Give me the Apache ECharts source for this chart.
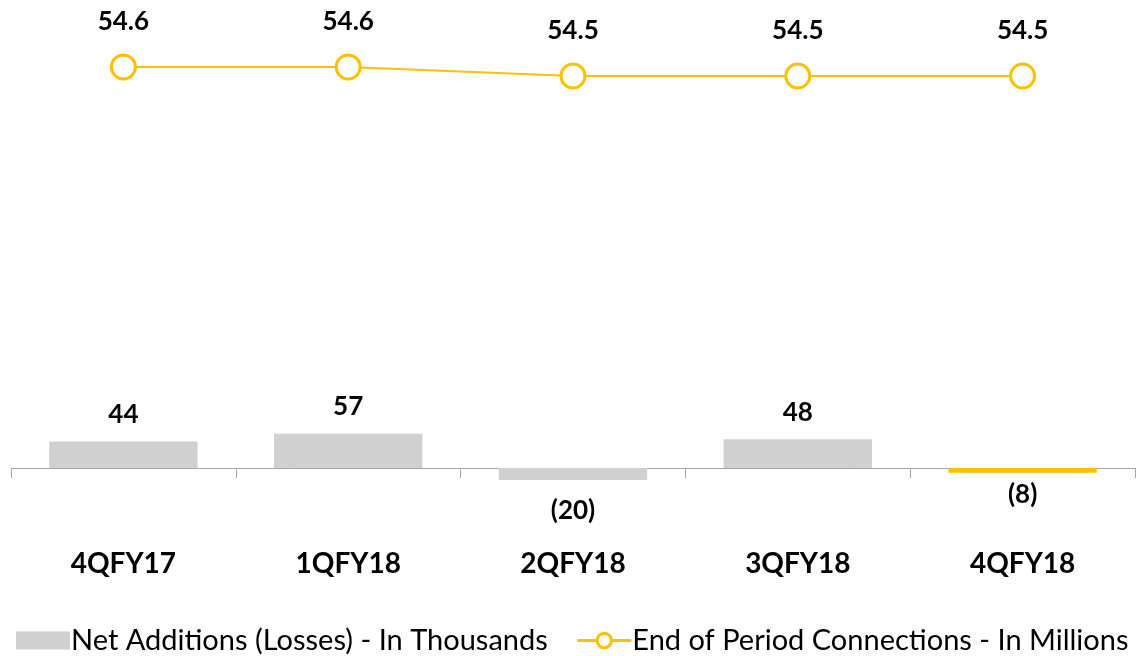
<!doctype html>
<html lang="en">
<head>
  <meta charset="UTF-8">
  <script src="https://cdn.jsdelivr.net/npm/echarts@6/dist/echarts.min.js"></script>
  <title>Connections</title>
  <style type="text/css">
    html, body {
      width: 100%;
      height: 100%;
      margin: 0;
      padding: 0;
      background-color: #ffffff;
    }

    #canvas {
      width: 1148px;
      height: 656px;
    }
  </style>
</head>

<body>
<div id="canvas"></div>

<script type="text/javascript">
  const categories = ['4QFY17', '1QFY18', '2QFY18', '3QFY18', '4QFY18']
  const netAdditions = [44, 57, -20, 48, -8]
  const connections = [54.6, 54.6, 54.5, 54.5, 54.5]

  const FONT = 'Lato'
  const GRAY = '#cfd0cf'
  const GOLD = '#ffc000'

  const chart = echarts.init(document.getElementById('canvas'))

  // bar axis: zero line at y=468, roughly 0.6 px per thousand
  // line axis: 90 px per million, 54.6 sits at y=67
  const gridTop = 8
  const gridBottom = 488
  const barScale = 0.6
  const lineScale = 90

  const barData = netAdditions.map((v, i) => {
    const item = { value: v }
    if (i === netAdditions.length - 1) {
      item.itemStyle = { color: GOLD }
    }
    if (v < 0) {
      item.label = { position: 'bottom', distance: i === netAdditions.length - 1 ? 9 : 18 }
    }
    return item
  })

  chart.setOption({
    animation: false,
    textStyle: { fontFamily: FONT },
    grid: {
      left: 11,
      right: 13,
      top: gridTop,
      height: gridBottom - gridTop,
      containLabel: false,
    },
    legend: {
      left: 11,
      top: 621,
      itemWidth: 54,
      itemHeight: 18,
      itemGap: 28,
      textStyle: { fontFamily: FONT, fontSize: 29, color: '#000000', padding: [0, 0, 0, -4] },
      data: [
        { name: 'Net Additions (Losses) - In Thousands', icon: 'rect' },
        {
          name: 'End of Period Connections - In Millions',
          lineStyle: { width: 3 },
          itemStyle: { borderWidth: 3 },
        },
      ],
    },
    xAxis: {
      type: 'category',
      data: categories,
      axisLine: { lineStyle: { color: '#a6a6a6', width: 1 } },
      axisTick: { show: true, length: 10, lineStyle: { color: '#a6a6a6' } },
      axisLabel: {
        margin: 62,
        fontFamily: FONT,
        fontSize: 28,
        fontWeight: 'bold',
        color: '#000000',
      },
    },
    yAxis: [
      {
        type: 'value',
        show: false,
        min: -(gridBottom - 468) / barScale,
        max: (468 - gridTop) / barScale,
        splitLine: { show: false },
      },
      {
        type: 'value',
        show: false,
        min: 54.6 - (gridBottom - 67) / lineScale,
        max: 54.6 + (67 - gridTop) / lineScale,
        splitLine: { show: false },
      },
    ],
    series: [
      {
        name: 'Net Additions (Losses) - In Thousands',
        type: 'bar',
        yAxisIndex: 0,
        barWidth: '66%',
        itemStyle: { color: GRAY },
        label: {
          show: true,
          position: 'top',
          distance: 14,
          fontFamily: FONT,
          fontSize: 26,
          fontWeight: 'bold',
          color: '#000000',
          formatter: p => p.value < 0 ? '(' + Math.abs(p.value) + ')' : String(p.value),
        },
        data: barData,
      },
      {
        name: 'End of Period Connections - In Millions',
        type: 'line',
        yAxisIndex: 1,
        symbol: 'circle',
        symbolSize: 24,
        lineStyle: { color: GOLD, width: 2 },
        itemStyle: { color: '#ffffff', borderColor: GOLD, borderWidth: 3 },
        label: {
          show: true,
          position: 'top',
          distance: 19,
          fontFamily: FONT,
          fontSize: 26,
          fontWeight: 'bold',
          color: '#000000',
          formatter: p => p.value.toFixed(1),
        },
        data: connections,
      },
    ],
  })
</script>
</body>
</html>
